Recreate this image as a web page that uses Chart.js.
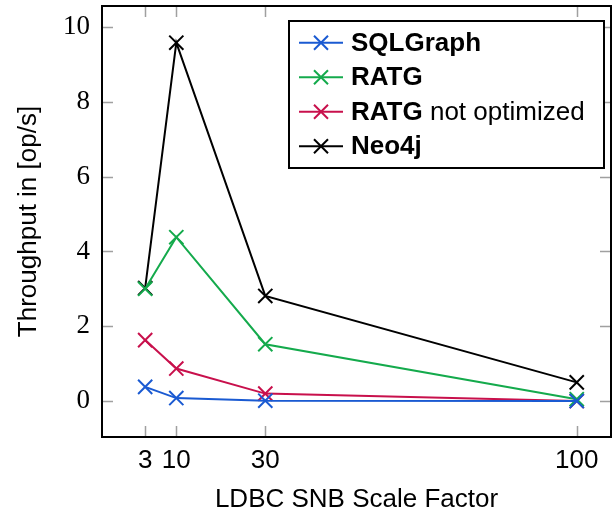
<!DOCTYPE html>
<html>
<head>
<meta charset="utf-8">
<script src="https://cdn.jsdelivr.net/npm/chart.js@4"></script>
<style>
html,body{margin:0;padding:0;background:#fff;}
#wrap{width:612px;height:513px;}
</style>
</head>
<body>
<div id="wrap"><canvas id="c" width="612" height="513"></canvas></div>
<script>
const scaleFactors = [3, 10, 30, 100];
const xTicks = [3, 10, 30, 100];
const yTicks = [0, 2, 4, 6, 8, 10];
const sqlGraph = [0.38, 0.08, 0.01, 0.0];
const ratg = [3.0, 4.38, 1.52, 0.05];
const ratgNotOpt = [1.63, 0.87, 0.2, 0.0];
const neo4j = [3.02, 9.58, 2.81, 0.5];
const seriesNames = ['SQLGraph', 'RATG', 'RATG not optimized', 'Neo4j'];
const legendBold = ['SQLGraph', 'RATG', 'RATG', 'Neo4j'];
const legendRest = ['', '', ' not optimized', ''];
const colors = ['#1a5ad2', '#14aa4c', '#c8104c', '#000000'];

function mk(i, vals){
  return {
    label: seriesNames[i],
    data: scaleFactors.map((x,k)=>({x:x, y:vals[k]})),
    borderColor: colors[i],
    backgroundColor: colors[i],
    borderWidth: 2,
    pointStyle: 'crossRot',
    pointRadius: 10,
    pointHoverRadius: 10,
    pointBorderWidth: 2,
    tension: 0,
    clip: false
  };
}

const insideTicks = {
  id: 'insideTicks',
  afterDatasetsDraw(chart){
    const ctx = chart.ctx, a = chart.chartArea;
    const xs = chart.scales.x, ys = chart.scales.y;
    ctx.save();
    ctx.strokeStyle = '#a0a0a0';
    ctx.lineWidth = 1.5;
    const L = 11;
    xTicks.forEach(v=>{
      const px = Math.round(xs.getPixelForValue(v))+0.5;
      ctx.beginPath();
      ctx.moveTo(px, a.bottom); ctx.lineTo(px, a.bottom - L);
      ctx.moveTo(px, a.top); ctx.lineTo(px, a.top + L);
      ctx.stroke();
    });
    yTicks.forEach(v=>{
      const py = Math.round(ys.getPixelForValue(v))+0.5;
      ctx.beginPath();
      ctx.moveTo(a.left, py); ctx.lineTo(a.left + L, py);
      ctx.moveTo(a.right, py); ctx.lineTo(a.right - L, py);
      ctx.stroke();
    });
    ctx.restore();
  },
  afterDraw(chart){
    const ctx = chart.ctx, a = chart.chartArea;
    ctx.save();
    ctx.strokeStyle = '#000';
    ctx.lineWidth = 2;
    ctx.strokeRect(a.left, a.top, a.right - a.left, a.bottom - a.top);
    // legend
    const bx = 289, by = 21, bw = 315, bh = 147;
    ctx.fillStyle = '#fff';
    ctx.fillRect(bx, by, bw, bh);
    ctx.strokeRect(bx, by, bw, bh);
    const rows = [42.7, 77.3, 111.7, 146.2];
    chart.data.datasets.forEach((ds,i)=>{
      const y = rows[i];
      ctx.strokeStyle = ds.borderColor;
      ctx.lineWidth = 2;
      ctx.beginPath(); ctx.moveTo(299, y); ctx.lineTo(343, y); ctx.stroke();
      const r = 7;
      ctx.beginPath();
      ctx.moveTo(321-r, y-r); ctx.lineTo(321+r, y+r);
      ctx.moveTo(321-r, y+r); ctx.lineTo(321+r, y-r);
      ctx.stroke();
      ctx.fillStyle = '#000';
      ctx.textBaseline = 'middle';
      ctx.font = 'bold 26px "Liberation Sans", Arial, sans-serif';
      ctx.fillText(legendBold[i], 351, y+1);
      const w = ctx.measureText(legendBold[i]).width;
      if (legendRest[i]) {
        ctx.font = '26px "Liberation Sans", Arial, sans-serif';
        ctx.fillText(legendRest[i], 351 + w, y+1);
      }
    });
    ctx.restore();
  }
};

new Chart(document.getElementById('c'), {
  type: 'line',
  data: {
    datasets: [mk(0, sqlGraph), mk(1, ratg), mk(2, ratgNotOpt), mk(3, neo4j)]
  },
  options: {
    responsive: false,
    animation: false,
    devicePixelRatio: 1,
    layout: { autoPadding: false, padding: { top: 6, right: 1, left: 0, bottom: 0 } },
    plugins: { legend: { display: false }, tooltip: { enabled: false } },
    scales: {
      x: {
        type: 'linear',
        min: -6.7, max: 107.7,
        afterBuildTicks(s){ s.ticks = xTicks.map(v=>({value:v})); },
        afterFit(s){ s.height = 76; s.paddingLeft = 0; s.paddingRight = 0; },
        grid: { display: false, drawTicks: false },
        border: { display: false },
        ticks: {
          color: '#000',
          padding: 8,
          maxRotation: 0,
          autoSkip: false,
          font: { family: '"Liberation Sans", Arial, sans-serif', size: 26 }
        },
        title: {
          display: true,
          text: 'LDBC SNB Scale Factor',
          color: '#000',
          padding: { top: 0, bottom: -2 },
          font: { family: '"Liberation Sans", Arial, sans-serif', size: 26 }
        }
      },
      y: {
        type: 'linear',
        min: -0.96, max: 10.56,
        afterBuildTicks(s){ s.ticks = yTicks.map(v=>({value:v})); },
        afterFit(s){ s.width = 102; s.paddingTop = 0; s.paddingBottom = 0; },
        grid: { display: false, drawTicks: false },
        border: { display: false },
        ticks: {
          color: '#000',
          padding: 12,
          autoSkip: false,
          font: { family: '"Liberation Serif", "Times New Roman", serif', size: 27 }
        },
        title: {
          display: true,
          text: 'Throughput in [op/s]',
          color: '#000',
          padding: { top: 13, bottom: 0 },
          font: { family: '"Liberation Sans", Arial, sans-serif', size: 26 }
        }
      }
    }
  },
  plugins: [insideTicks]
});
</script>
</body>
</html>
